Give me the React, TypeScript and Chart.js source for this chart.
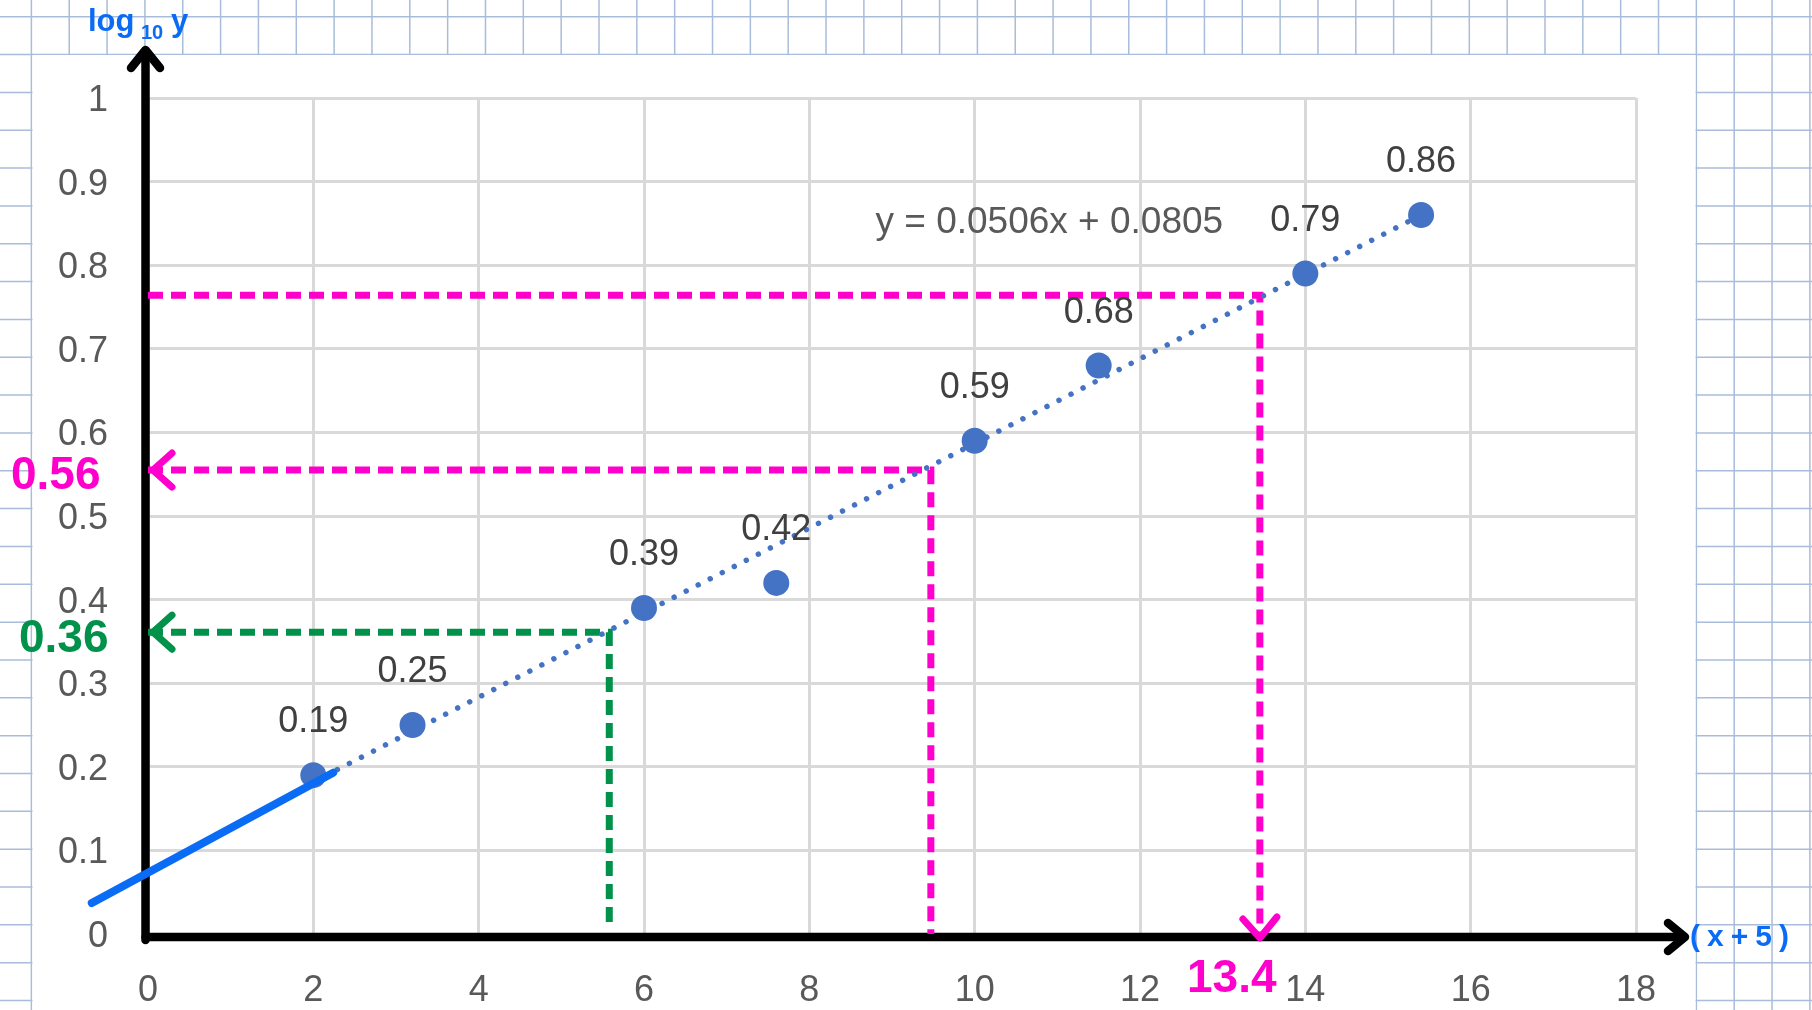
import React, { useEffect, useRef } from 'react';
import { Chart, registerables } from 'chart.js';

Chart.register(...registerables);

// ---- data ----
const xValues = [2, 3.2, 6, 7.6, 10, 11.5, 14, 15.4];
const yValues = [0.19, 0.25, 0.39, 0.42, 0.59, 0.68, 0.79, 0.86];
const pointLabels = ['0.19', '0.25', '0.39', '0.42', '0.59', '0.68', '0.79', '0.86'];

const trendX = [2, 15.4];
const trendY = [0.182, 0.86];
const trendEquation = 'y = 0.0506x + 0.0805';

const handLineX = [-0.68, 2.24];
const handLineY = [0.037, 0.193];

const magentaTopX = [0, 13.45, 13.45];
const magentaTopY = [0.764, 0.764, 0];
const magentaMidX = [0, 9.47, 9.47];
const magentaMidY = [0.555, 0.555, 0];
const greenX = [0, 5.58, 5.58];
const greenY = [0.361, 0.361, 0.012];

const yTickLabels = ['0', '0.1', '0.2', '0.3', '0.4', '0.5', '0.6', '0.7', '0.8', '0.9', '1'];
const xTickLabels = ['0', '2', '4', '6', '8', '10', '12', '14', '16', '18'];

const xAxisTitle = '(x+5)';
const yAxisTitleParts = ['log', '10', 'y'];
const noteMid = '0.56';
const noteGreen = '0.36';
const noteBottom = '13.4';

// ---- styles ----
const MAGENTA = '#ff00cc';
const GREEN = '#00914a';
const HAND_BLUE = '#0a6cf5';
const POINT_BLUE = '#4472C4';
const PAPER = '#a9bcd9';
const FONT = '"Liberation Sans", Arial, sans-serif';

const zip = (xs: number[], ys: number[]) => xs.map((x, i) => ({ x, y: ys[i] }));

const paperPlugin = {
  id: 'paper',
  beforeDraw(chart: any) {
    const ctx = chart.ctx;
    const W = chart.width;
    const H = chart.height;
    ctx.save();
    ctx.fillStyle = '#ffffff';
    ctx.fillRect(0, 0, W, H);
    ctx.strokeStyle = PAPER;
    ctx.lineWidth = 1.5;
    const step = 37.84;
    for (let x = 31.4 - step; x < W + step; x += step) {
      ctx.beginPath();
      ctx.moveTo(x, 0);
      ctx.lineTo(x, H);
      ctx.stroke();
    }
    for (let y = 16.7; y < H + step; y += step) {
      ctx.beginPath();
      ctx.moveTo(0, y);
      ctx.lineTo(W, y);
      ctx.stroke();
    }
    ctx.fillStyle = '#ffffff';
    ctx.fillRect(32.5, 55, 1696.5 - 33.5, H - 55);
    ctx.restore();
  },
};

const axesPlugin = {
  id: 'blackAxes',
  beforeDatasetsDraw(chart: any) {
    const { ctx, chartArea } = chart;
    const { left, right, top, bottom } = chartArea;
    ctx.save();
    ctx.strokeStyle = '#000000';
    ctx.lineWidth = 8.5;
    ctx.lineCap = 'round';
    ctx.lineJoin = 'round';
    const ax = left - 2.5;
    const ay = bottom + 3;
    // y axis
    ctx.beginPath();
    ctx.moveTo(ax, ay + 3);
    ctx.lineTo(ax, top - 47);
    ctx.stroke();
    ctx.beginPath();
    ctx.moveTo(ax - 14.5, top - 30);
    ctx.lineTo(ax, top - 48);
    ctx.lineTo(ax + 14.5, top - 30);
    ctx.stroke();
    // x axis
    ctx.beginPath();
    ctx.moveTo(ax, ay);
    ctx.lineTo(right + 48, ay);
    ctx.stroke();
    ctx.beginPath();
    ctx.moveTo(right + 32, ay - 14);
    ctx.lineTo(right + 49, ay);
    ctx.lineTo(right + 32, ay + 14);
    ctx.stroke();
    ctx.restore();
  },
  afterDatasetsDraw(chart: any) {
    const { ctx } = chart;
    const xs = chart.scales.x;
    const ys = chart.scales.y;
    ctx.save();
    ctx.lineCap = 'round';
    ctx.lineJoin = 'round';
    ctx.lineWidth = 7;

    // left arrowheads for guide lines
    const leftArrow = (yv: number, color: string) => {
      const tx = xs.getPixelForValue(0) + 5;
      const ty = ys.getPixelForValue(yv);
      ctx.strokeStyle = color;
      ctx.beginPath();
      ctx.moveTo(tx + 19, ty - 17);
      ctx.lineTo(tx, ty);
      ctx.lineTo(tx + 19, ty + 17);
      ctx.stroke();
    };
    leftArrow(magentaMidY[0], MAGENTA);
    leftArrow(greenY[0], GREEN);

    // down arrowhead
    {
      const tx = xs.getPixelForValue(magentaTopX[1]);
      const ty = ys.getPixelForValue(0) + 4;
      ctx.strokeStyle = MAGENTA;
      ctx.beginPath();
      ctx.moveTo(tx - 17, ty - 19);
      ctx.lineTo(tx, ty);
      ctx.lineTo(tx + 17, ty - 21);
      ctx.stroke();
    }

    // data labels
    ctx.fillStyle = '#404040';
    ctx.font = `36px ${FONT}`;
    ctx.textAlign = 'center';
    ctx.textBaseline = 'alphabetic';
    xValues.forEach((xv, i) => {
      const px = xs.getPixelForValue(xv);
      const py = ys.getPixelForValue(yValues[i]);
      ctx.fillText(pointLabels[i], px, py - 43);
    });

    // trend equation
    ctx.fillStyle = '#595959';
    ctx.textAlign = 'left';
    ctx.font = `37px ${FONT}`;
    ctx.fillText(trendEquation, xs.getPixelForValue(8.8), ys.getPixelForValue(0.8385));

    // hand-written notes
    ctx.font = `bold 46px ${FONT}`;
    ctx.fillStyle = MAGENTA;
    ctx.fillText(noteMid, 11, 489);
    ctx.fillText(noteBottom, 1187, 992);
    ctx.fillStyle = GREEN;
    ctx.fillText(noteGreen, 19, 652);

    // axis titles
    ctx.fillStyle = HAND_BLUE;
    ctx.font = `bold 30px ${FONT}`;
    (ctx as any).letterSpacing = '7px';
    ctx.textBaseline = 'middle';
    ctx.fillText(xAxisTitle, 1690, 938);
    (ctx as any).letterSpacing = '0px';
    ctx.textBaseline = 'alphabetic';
    ctx.font = `bold 31px ${FONT}`;
    ctx.fillText(yAxisTitleParts[0], 88, 31);
    ctx.font = `bold 20px ${FONT}`;
    ctx.fillText(yAxisTitleParts[1], 141, 39);
    ctx.font = `bold 31px ${FONT}`;
    ctx.fillText(yAxisTitleParts[2], 171, 31);
    ctx.restore();
  },
};

export default function App() {
  const ref = useRef<HTMLCanvasElement | null>(null);

  useEffect(() => {
    document.body.style.margin = '0';
    const canvas = ref.current;
    if (!canvas) return;
    const guideCommon = {
      showLine: true,
      pointRadius: 0,
      borderWidth: 7,
      borderDash: [15, 8],
      borderCapStyle: 'butt',
      borderJoinStyle: 'miter',
      fill: false,
      tension: 0,
      order: 3,
    };
    const chart = new Chart(canvas, {
      type: 'scatter',
      data: {
        datasets: [
          {
            label: 'hand',
            data: zip(handLineX, handLineY),
            showLine: true,
            pointRadius: 0,
            borderColor: HAND_BLUE,
            borderWidth: 8,
            borderCapStyle: 'round',
            clip: false,
            order: 0,
          } as any,
          {
            label: 'points',
            data: zip(xValues, yValues),
            showLine: false,
            pointRadius: 13,
            pointHoverRadius: 13,
            pointBackgroundColor: POINT_BLUE,
            pointBorderWidth: 0,
            borderColor: POINT_BLUE,
            order: 1,
          },
          {
            label: 'trend',
            data: zip(trendX, trendY),
            showLine: true,
            pointRadius: 0,
            borderColor: POINT_BLUE,
            borderWidth: 5.5,
            borderDash: [0.01, 13.5],
            borderCapStyle: 'round',
            order: 2,
          } as any,
          { label: 'mTop', data: zip(magentaTopX, magentaTopY), borderColor: MAGENTA, ...guideCommon } as any,
          { label: 'mMid', data: zip(magentaMidX, magentaMidY), borderColor: MAGENTA, ...guideCommon } as any,
          { label: 'green', data: zip(greenX, greenY), borderColor: GREEN, ...guideCommon } as any,
        ],
      },
      options: {
        responsive: false,
        devicePixelRatio: 1,
        animation: false,
        events: [],
        layout: { padding: { left: 0, top: 98, right: 176, bottom: 0 } },
        plugins: {
          legend: { display: false },
          tooltip: { enabled: false },
        },
        scales: {
          x: {
            type: 'linear',
            min: 0,
            max: 18,
            ticks: {
              stepSize: 2,
              autoSkip: false,
              maxRotation: 0,
              padding: 35,
              color: '#595959',
              font: { family: FONT, size: 36 },
              callback: (_v: any, i: number) => xTickLabels[i],
            },
            grid: { color: '#d9d9d9', lineWidth: 3, drawTicks: false },
            border: { display: false },
            afterFit: (s: any) => {
              s.height = 76;
            },
          },
          y: {
            type: 'linear',
            min: 0,
            max: 1,
            ticks: {
              stepSize: 0.1,
              autoSkip: false,
              padding: 40,
              labelOffset: 3,
              color: '#595959',
              font: { family: FONT, size: 36 },
              callback: (_v: any, i: number) => yTickLabels[i],
            },
            grid: { color: '#d9d9d9', lineWidth: 3, drawTicks: false },
            border: { display: false },
            afterFit: (s: any) => {
              s.width = 148;
            },
          },
        },
      } as any,
      plugins: [paperPlugin, axesPlugin],
    });
    return () => chart.destroy();
  }, []);

  return (
    <div style={{ position: 'fixed', left: 0, top: 0, width: 1812, height: 1010 }}>
      <canvas ref={ref} width={1812} height={1010} style={{ display: 'block', width: 1812, height: 1010 }} />
    </div>
  );
}
